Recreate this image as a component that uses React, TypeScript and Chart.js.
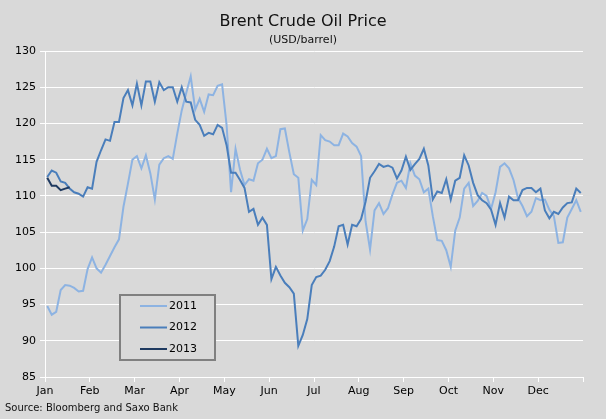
import React, { useEffect, useRef } from "react";
import { Chart, registerables } from "chart.js";

Chart.register(...registerables);

// ---- data ----
const MONTHS = ["Jan", "Feb", "Mar", "Apr", "May", "Jun", "Jul", "Aug", "Sep", "Oct", "Nov", "Dec"];
const SERIES_LABELS = ["2011", "2012", "2013"];
// samples are taken every 0.1 month, first one at 0.05 month
const SAMPLE_START = 0.05;
const SAMPLE_STEP = 0.1;

const price2011 = [
  94.8, 93.6, 94.0, 97.0, 97.7, 97.6, 97.3, 96.8, 96.9, 99.9,
  101.5, 100.0, 99.4, 100.5, 101.7, 102.9, 104.0, 108.5, 111.7, 115.0,
  115.5, 113.8, 115.6, 113.1, 109.5, 114.3, 115.2, 115.5, 115.1, 118.6,
  121.8, 124.2, 126.5, 121.9, 123.4, 121.6, 124.0, 123.9, 125.2, 125.4,
  119.8, 110.5, 116.5, 113.6, 111.5, 112.3, 112.1, 114.5, 115.0, 116.5,
  115.2, 115.5, 119.2, 119.3, 116.0, 113.0, 112.5, 105.2, 106.8, 112.2,
  111.5, 118.4, 117.7, 117.5, 117.0, 117.0, 118.6, 118.2, 117.3, 116.8,
  115.5, 106.5, 102.6, 108.0, 109.0, 107.5, 108.3, 110.2, 111.8, 112.1,
  111.1, 114.5, 112.8, 112.3, 110.5, 111.0, 107.2, 103.9, 103.8, 102.5,
  100.2, 105.2, 107.0, 111.0, 111.8, 108.6, 109.3, 110.4, 110.0, 108.2,
  110.5, 114.0, 114.5, 113.8, 112.2, 109.7, 108.6, 107.2, 107.8, 109.7,
  109.4, 109.5, 108.1, 107.2, 103.5, 103.6, 107.0, 108.2, 109.4, 107.8,
];

const price2012 = [
  112.6, 113.5, 113.2, 112.0, 111.8, 111.0, 110.5, 110.3, 109.9, 111.2,
  111.0, 114.7, 116.3, 117.8, 117.6, 120.2, 120.2, 123.5, 124.6, 122.5,
  125.5, 122.5, 125.8, 125.8, 123.0, 125.7, 124.6, 125.0, 125.0, 123.0,
  125.0, 123.0, 122.9, 120.5, 119.8, 118.3, 118.7, 118.5, 119.8, 119.4,
  117.0, 113.2, 113.2, 112.2, 111.1, 107.8, 108.2, 106.0, 107.0, 106.0,
  98.5, 100.2, 99.0, 98.0, 97.4, 96.5, 89.3, 90.8, 93.0, 97.7,
  98.8, 99.0, 99.8, 101.0, 103.0, 105.8, 106.0, 103.3, 106.0, 105.8,
  106.8, 109.2, 112.5, 113.4, 114.4, 114.0, 114.2, 113.9, 112.4, 113.5,
  115.4, 113.6, 114.4, 115.1, 116.5, 114.2, 109.5, 110.6, 110.4, 112.3,
  109.5, 112.1, 112.5, 115.6, 114.2, 111.8, 110.1, 109.4, 109.0, 108.1,
  106.0, 109.0, 107.0, 109.9, 109.4, 109.4, 110.8, 111.1, 111.1, 110.5,
  111.0, 108.0, 106.9, 107.8, 107.5, 108.4, 109.0, 109.1, 111.0, 110.4,
];

const price2013 = [112.5, 111.4, 111.4, 110.8, 111.0, 111.2];

const Y_MIN = 85;
const Y_MAX = 130;
const Y_STEP = 5;

const COLORS = ["#8db3e2", "#4a7ebb", "#1f3a60"];
const BG = "#d9d9d9";
const FONT = "'DejaVu Sans', Verdana, sans-serif";

const toPoints = (vals: number[]) =>
  vals.map((v, i) => ({ x: SAMPLE_START + i * SAMPLE_STEP, y: v }));

const bgPlugin = {
  id: "bgFill",
  beforeDraw(chart: any) {
    const ctx = chart.ctx;
    ctx.save();
    ctx.fillStyle = BG;
    ctx.fillRect(0, 0, chart.width, chart.height);
    ctx.restore();
  },
};

const textPlugin = {
  id: "texts",
  afterDraw(chart: any) {
    const ctx = chart.ctx;
    ctx.save();
    ctx.fillStyle = "#111";
    ctx.textAlign = "center";
    ctx.textBaseline = "middle";
    ctx.font = `16px ${FONT}`;
    ctx.fillText("Brent Crude Oil Price", chart.width / 2, 22);
    ctx.font = `11px ${FONT}`;
    ctx.fillText("(USD/barrel)", chart.width / 2, 40);
    ctx.textAlign = "left";
    ctx.font = `10px ${FONT}`;
    ctx.fillText("Source: Bloomberg and Saxo Bank", 5, 408);
    ctx.restore();
  },
};

const legendPlugin = {
  id: "boxLegend",
  afterDatasetsDraw(chart: any) {
    const ctx = chart.ctx;
    const bx = 120, by = 295, bw = 95, bh = 65;
    ctx.save();
    ctx.fillStyle = BG;
    ctx.fillRect(bx, by, bw, bh);
    ctx.strokeStyle = "#808080";
    ctx.lineWidth = 2;
    ctx.strokeRect(bx, by, bw, bh);
    ctx.font = `11px ${FONT}`;
    ctx.textBaseline = "middle";
    ctx.textAlign = "left";
    chart.data.datasets.forEach((ds: any, i: number) => {
      const y = by + 11 + i * 21.5;
      ctx.strokeStyle = ds.borderColor;
      ctx.lineWidth = 2;
      ctx.beginPath();
      ctx.moveTo(bx + 20, y);
      ctx.lineTo(bx + 47, y);
      ctx.stroke();
      ctx.fillStyle = "#000";
      ctx.fillText(ds.label, bx + 49, y);
    });
    ctx.restore();
  },
};

export default function App() {
  const ref = useRef<HTMLCanvasElement | null>(null);

  useEffect(() => {
    if (!ref.current) return;
    const seriesValues = [price2011, price2012, price2013];
    const chart = new Chart(ref.current, {
      type: "line",
      data: {
        datasets: seriesValues.map((vals, i) => ({
          label: SERIES_LABELS[i],
          data: toPoints(vals),
          borderColor: COLORS[i],
          backgroundColor: COLORS[i],
          borderWidth: 2,
          pointRadius: 0,
          tension: 0,
          fill: false,
          order: 2 - i,
        })),
      },
      options: {
        animation: false,
        responsive: false,
        maintainAspectRatio: false,
        devicePixelRatio: 1,
        layout: { padding: { top: 51, right: 23, bottom: 0, left: 0 } },
        plugins: {
          legend: { display: false },
          title: { display: false },
          tooltip: { enabled: false },
        },
        scales: {
          x: {
            type: "linear",
            min: 0,
            max: 12,
            afterFit: (s: any) => {
              s.height = 42;
            },
            ticks: {
              stepSize: 1,
              autoSkip: false,
              maxRotation: 0,
              padding: 3,
              color: "#000",
              font: { family: FONT, size: 11 },
              callback: (v: any) => MONTHS[v as number] ?? "",
            },
            grid: {
              drawOnChartArea: false,
              drawTicks: true,
              tickLength: 5,
              color: "#ffffff",
            },
            border: { color: "#ffffff", width: 1 },
          },
          y: {
            min: Y_MIN,
            max: Y_MAX,
            afterFit: (s: any) => {
              s.width = 45;
            },
            ticks: {
              stepSize: Y_STEP,
              padding: 4,
              color: "#000",
              font: { family: FONT, size: 11 },
            },
            grid: {
              color: "#ffffff",
              lineWidth: 1,
              tickLength: 5,
            },
            border: { color: "#ffffff", width: 1 },
          },
        },
      },
      plugins: [bgPlugin, legendPlugin, textPlugin],
    });
    return () => chart.destroy();
  }, []);

  return (
    <div style={{ position: "absolute", left: 0, top: 0, width: 606, height: 419, background: BG }}>
      <canvas ref={ref} width={606} height={419} style={{ display: "block" }} />
    </div>
  );
}
